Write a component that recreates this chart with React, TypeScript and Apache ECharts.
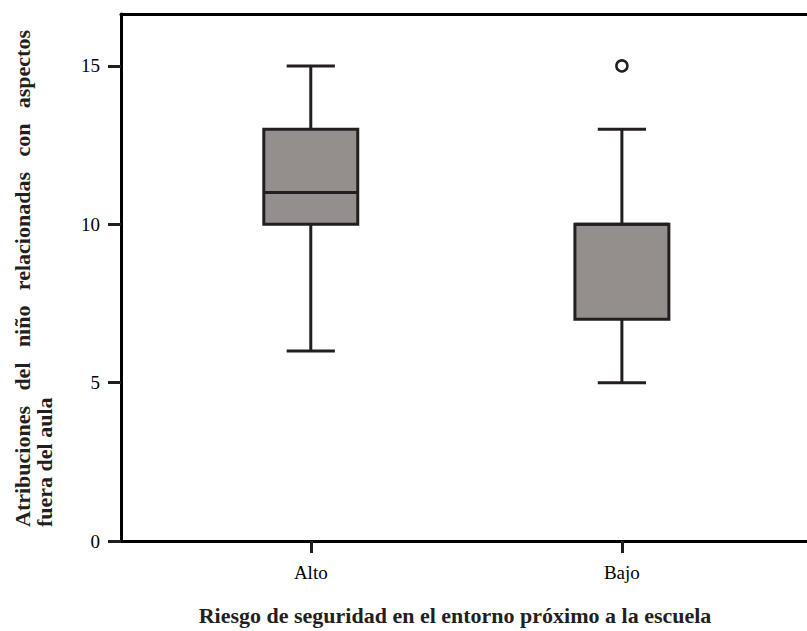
import React, { useEffect, useRef } from "react";
import * as echarts from "echarts";

const categories = ["Alto", "Bajo"];
const whiskerLow = [6, 5];
const quartile1 = [10, 7];
const medians = [11, 10];
const quartile3 = [13, 10];
const whiskerHigh = [15, 13];
const outlierCategories = ["Bajo"];
const outlierValues = [15];
const yTickValues = [0, 5, 10, 15];

const yTitleLine1 = ["Atribuciones", "del", "niño", "relacionadas", "con", "aspectos"];
const yTitleLine2 = "fuera del aula";
const xTitle = "Riesgo de seguridad en el entorno próximo a la escuela";

const STROKE = "#231f20";
const FILL = "#948f8d";
const SERIF = "'Liberation Serif', 'DejaVu Serif', serif";
const TITLE_FONT_SIZE = 22;
const TICK_FONT_SIZE = 19;

const X_MIN = 0.39;
const X_MAX = 2.595;

export default function App() {
  const ref = useRef<HTMLDivElement>(null);
  useEffect(() => {
    document.body.style.margin = "0";
    const chart = echarts.init(ref.current!, null, { renderer: "svg" });

    const boxData = categories.map((_, i) => [
      i + 1,
      whiskerLow[i],
      quartile1[i],
      medians[i],
      quartile3[i],
      whiskerHigh[i],
    ]);
    const outlierData = outlierValues.map((v, i) => [
      categories.indexOf(outlierCategories[i]) + 1,
      v,
    ]);

    const titleFont = `bold ${TITLE_FONT_SIZE}px ${SERIF}`;
    // justify first y-title line
    const canvas = document.createElement("canvas");
    const ctx = canvas.getContext("2d")!;
    ctx.font = titleFont;
    const widths = yTitleLine1.map((w) => ctx.measureText(w).width);
    const spanBottom = 527;
    const spanTop = 30;
    const total = widths.reduce((a, b) => a + b, 0);
    const gap = (spanBottom - spanTop - total) / (yTitleLine1.length - 1);
    let cursor = spanBottom;
    const line1Elems: any[] = yTitleLine1.map((w, i) => {
      const el = {
        type: "text",
        x: 22,
        y: cursor,
        rotation: Math.PI / 2,
        style: {
          text: w,
          font: titleFont,
          fill: STROKE,
          textAlign: "left",
          textVerticalAlign: "middle",
        },
      };
      cursor -= widths[i] + gap;
      return el;
    });

    const option: any = {
      animation: false,
      backgroundColor: "#ffffff",
      grid: {
        left: 121,
        right: 0,
        top: 14,
        bottom: 90,
        show: false,
      },
      xAxis: [
        {
          type: "value",
          min: X_MIN,
          max: X_MAX,
          axisLine: { show: true, onZero: false, lineStyle: { color: "#000", width: 3 } },
          axisTick: {
            show: true,
            customValues: [1, 2],
            length: 12,
            lineStyle: { color: STROKE, width: 3 },
          },
          axisLabel: {
            customValues: [1, 2],
            margin: 22,
            fontFamily: SERIF,
            fontSize: TICK_FONT_SIZE,
            color: "#000",
            verticalAlign: "top",
            formatter: (v: number) => categories[Math.round(v) - 1] ?? "",
          },
          splitLine: { show: false },
        },
        {
          type: "value",
          position: "top",
          min: X_MIN,
          max: X_MAX,
          axisLine: { show: true, onZero: false, lineStyle: { color: "#000", width: 3 } },
          axisTick: { show: false },
          axisLabel: { show: false },
          splitLine: { show: false },
        },
      ],
      yAxis: {
        type: "value",
        min: 0,
        max: 16.64,
        axisLine: { show: true, onZero: false, lineStyle: { color: "#000", width: 3 } },
        axisTick: {
          show: true,
          customValues: yTickValues,
          length: 13,
          lineStyle: { color: STROKE, width: 3 },
        },
        axisLabel: {
          customValues: yTickValues,
          margin: 21,
          fontFamily: SERIF,
          fontSize: TICK_FONT_SIZE,
          color: "#000",
        },
        splitLine: { show: false },
      },
      series: [
        {
          type: "custom",
          data: boxData,
          clip: false,
          renderItem: (params: any, api: any) => {
            const x = api.value(0);
            const lo = api.coord([x, api.value(1)]);
            const q1 = api.coord([x, api.value(2)]);
            const med = api.coord([x, api.value(3)]);
            const q3 = api.coord([x, api.value(4)]);
            const hi = api.coord([x, api.value(5)]);
            const boxW = api.size([0.302, 0])[0];
            const capW = api.size([0.155, 0])[0];
            const cx = lo[0];
            const ls = { stroke: STROKE, lineWidth: 3 };
            return {
              type: "group",
              children: [
                { type: "line", shape: { x1: cx, y1: lo[1], x2: cx, y2: q1[1] }, style: ls },
                { type: "line", shape: { x1: cx, y1: q3[1], x2: cx, y2: hi[1] }, style: ls },
                { type: "line", shape: { x1: cx - capW / 2, y1: lo[1], x2: cx + capW / 2, y2: lo[1] }, style: ls },
                { type: "line", shape: { x1: cx - capW / 2, y1: hi[1], x2: cx + capW / 2, y2: hi[1] }, style: ls },
                {
                  type: "rect",
                  shape: { x: cx - boxW / 2, y: q3[1], width: boxW, height: q1[1] - q3[1] },
                  style: { fill: FILL, stroke: STROKE, lineWidth: 3 },
                },
                { type: "line", shape: { x1: cx - boxW / 2, y1: med[1], x2: cx + boxW / 2, y2: med[1] }, style: ls },
              ],
            };
          },
        },
        {
          type: "scatter",
          data: outlierData,
          symbol: "circle",
          symbolSize: 11,
          itemStyle: { color: "#ffffff", borderColor: STROKE, borderWidth: 2.5, opacity: 1 },
        },
      ],
      graphic: [
        ...line1Elems,
        {
          type: "text",
          x: 44,
          y: spanBottom,
          rotation: Math.PI / 2,
          style: {
            text: yTitleLine2,
            font: titleFont,
            fill: STROKE,
            textAlign: "left",
            textVerticalAlign: "middle",
          },
        },
        {
          type: "text",
          x: 455,
          y: 615,
          style: {
            text: xTitle,
            font: titleFont,
            fill: STROKE,
            textAlign: "center",
            textVerticalAlign: "middle",
          },
        },
      ],
    };
    chart.setOption(option);
    return () => chart.dispose();
  }, []);
  return <div ref={ref} style={{ width: 807, height: 631 }} />;
}
